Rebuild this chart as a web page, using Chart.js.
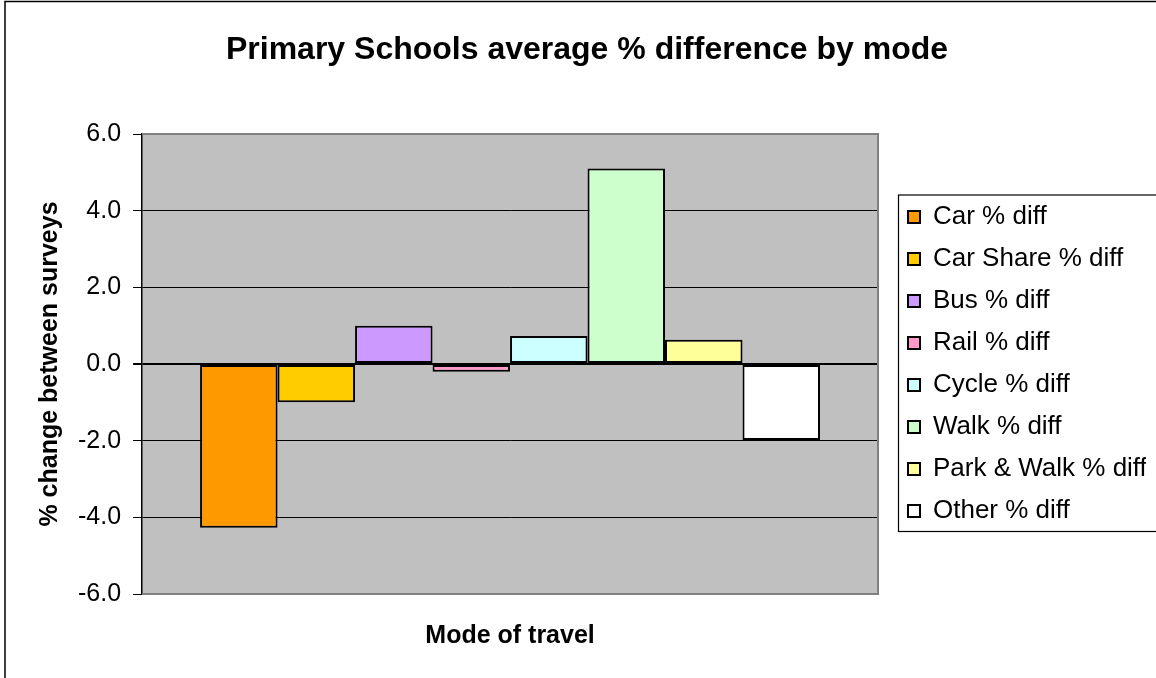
<!DOCTYPE html>
<html>
<head>
<meta charset="utf-8">
<title>Primary Schools average % difference by mode</title>
<script src="https://cdn.jsdelivr.net/npm/chart.js@4.4.0/dist/chart.umd.min.js"></script>
<style>
  html, body { margin: 0; padding: 0; background: #fff; }
  #wrap { width: 1156px; height: 678px; position: relative; }
</style>
</head>
<body>
<div id="wrap"><canvas id="myChart"></canvas></div>
<script>
// data
var categories = [''];
var seriesNames = ['Car % diff', 'Car Share % diff', 'Bus % diff', 'Rail % diff',
                   'Cycle % diff', 'Walk % diff', 'Park & Walk % diff', 'Other % diff'];
var seriesValues = [-4.27, -1.0, 1.0, -0.2, 0.73, 5.1, 0.63, -1.98];
var seriesColors = ['#FF9900', '#FFCC00', '#CC99FF', '#FF99CC',
                    '#CCFFFF', '#CCFFCC', '#FFFF99', '#FFFFFF'];
var yMin = -6, yMax = 6, yStep = 2;

Chart.defaults.font.family = '"Liberation Sans", Arial, sans-serif';
Chart.defaults.color = '#000';

var datasets = seriesNames.map(function (name, i) {
    return {
        label: name,
        data: [seriesValues[i]],
        backgroundColor: seriesColors[i],
        borderColor: '#000',
        borderWidth: 2,
        borderSkipped: false
    };
});

// grey plot area, frame round the whole chart and box round the legend
var frames = {
    id: 'frames',
    beforeDraw: function (chart) {
        var a = chart.chartArea, c = chart.ctx;
        c.save();
        c.fillStyle = '#C0C0C0';
        c.fillRect(a.left, a.top, a.right - a.left, a.bottom - a.top);
        c.restore();
    },
    beforeDatasetsDraw: function (chart) {
        var a = chart.chartArea, c = chart.ctx;
        c.save();
        c.strokeStyle = '#808080';
        c.lineWidth = 2;
        c.beginPath();
        c.moveTo(a.left, a.top);
        c.lineTo(a.right, a.top);
        c.lineTo(a.right, a.bottom);
        c.lineTo(a.left, a.bottom);
        c.stroke();
        c.restore();
    },
    afterDraw: function (chart) {
        var c = chart.ctx;
        var boxes = chart.legend.legendHitBoxes;
        c.save();
        c.strokeStyle = '#000';
        c.lineWidth = 1.5;
        c.strokeRect(5, 1.5, 1300, 1000);
        if (boxes && boxes.length) {
            var first = boxes[0], last = boxes[boxes.length - 1];
            c.lineWidth = 1.2;
            c.strokeRect(first.left - 9.5, first.top - 9,
                         1300, last.top + last.height + 7.5 - (first.top - 9));
        }
        c.restore();
    }
};

var ctx = document.getElementById('myChart').getContext('2d');
var myChart = new Chart(ctx, {
    type: 'bar',
    data: {
        labels: categories,
        datasets: datasets
    },
    plugins: [frames],
    options: {
        responsive: true,
        maintainAspectRatio: false,
        animation: false,
        layout: { padding: { left: 28, right: 10, top: 0, bottom: 0 } },
        datasets: {
            bar: { categoryPercentage: 0.8424, barPercentage: 1 }
        },
        scales: {
            x: {
                grid: { display: false, drawTicks: false },
                border: { display: false },
                ticks: { display: false },
                title: {
                    display: true,
                    text: 'Mode of travel',
                    font: { size: 25, weight: 'bold' },
                    padding: { top: 27, bottom: 27 }
                }
            },
            y: {
                min: yMin,
                max: yMax,
                grid: {
                    color: function (c) {
                        var v = c.tick && c.tick.value;
                        return (v === yMin || v === yMax) ? 'rgba(0,0,0,0)' : '#000';
                    },
                    lineWidth: function (c) {
                        return (c.tick && c.tick.value === 0) ? 2 : 1;
                    },
                    tickColor: '#000',
                    tickLength: 9
                },
                border: { color: '#000', width: 1.5 },
                ticks: {
                    stepSize: yStep,
                    padding: 12,
                    font: { size: 25 },
                    callback: function (v) { return v.toFixed(1); }
                },
                title: {
                    display: true,
                    text: '% change between surveys',
                    font: { size: 25, weight: 'bold' },
                    padding: { top: 7, bottom: 1 }
                }
            },
            gap: {
                type: 'linear',
                position: 'right',
                min: 0,
                max: 1,
                grid: { display: false, drawTicks: false },
                border: { display: false },
                ticks: { display: false },
                afterFit: function (s) { s.width = 14; }
            }
        },
        plugins: {
            title: {
                display: true,
                text: 'Primary Schools average % difference by mode',
                font: { size: 32, weight: 'bold' },
                padding: { top: 30.8, bottom: 64.8 }
            },
            legend: {
                position: 'right',
                fullSize: false,
                maxWidth: 254,
                labels: {
                    boxWidth: 12,
                    boxHeight: 12,
                    padding: 16,
                    font: { size: 26 },
                    color: '#000'
                }
            },
            tooltip: { enabled: false }
        }
    }
});
</script>
</body>
</html>
